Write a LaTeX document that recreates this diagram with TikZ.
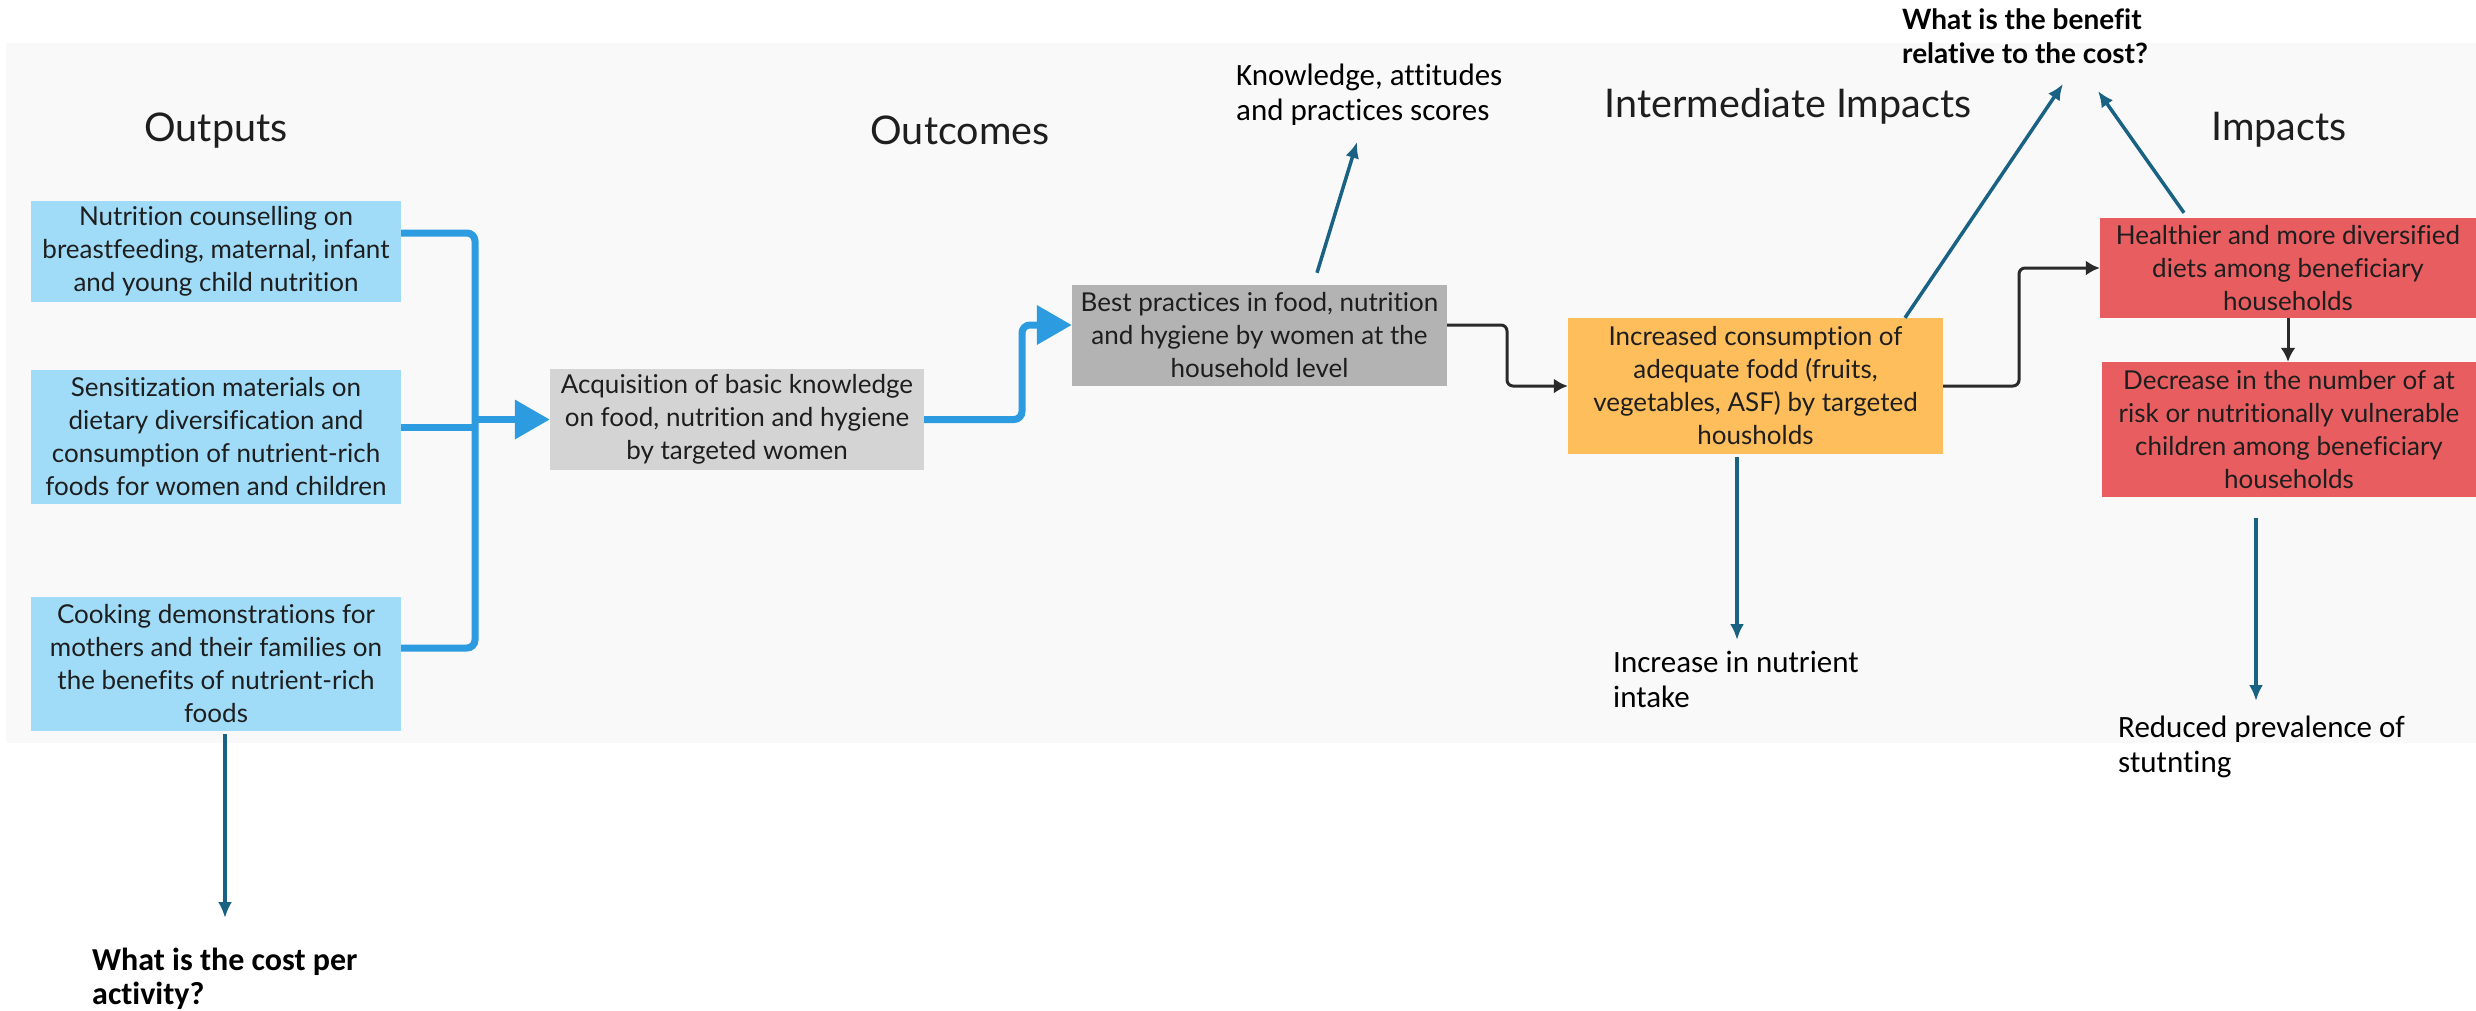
\documentclass[tikz,border=0pt]{standalone}
\usepackage{fontspec}
\setmainfont[Ligatures=NoCommon]{Lato}
\newfontfamily\labfont[Ligatures=NoCommon]{Carlito}
\usetikzlibrary{arrows.meta,calc}
\definecolor{panel}{HTML}{F9F9F9}
\definecolor{outblue}{HTML}{A0DCF8}
\definecolor{connblue}{HTML}{2D9BE0}
\definecolor{lgray}{HTML}{D4D4D4}
\definecolor{mgray}{HTML}{B3B3B3}
\definecolor{orangebox}{HTML}{FFBE5C}
\definecolor{redbox}{HTML}{E85D60}
\definecolor{tealarrow}{HTML}{1A6283}
\definecolor{darkline}{HTML}{2A2A2A}
\definecolor{txt}{HTML}{1E1E1E}
\begin{document}
\begin{tikzpicture}[x=1pt,y=-1pt,
  box/.style={inner sep=0pt, align=center, text=txt, font=\fontsize{26}{33}\selectfont},
  titlenode/.style={inner sep=0pt, text=txt, font=\fontsize{39.5}{42}\selectfont},
  labnode/.style={inner sep=0pt, align=left, anchor=north west, text=black, font=\labfont\fontsize{31}{35}\selectfont},
  boldlab/.style={inner sep=0pt, align=left, anchor=north west, text=black, font=\bfseries\fontsize{28}{34}\selectfont},
  blueconn/.style={draw=connblue, line width=7pt, rounded corners=8pt},
  bluearr/.style={blueconn, -{Triangle[length=35pt,width=38pt]}},
  blackarr/.style={draw=darkline, line width=3pt, rounded corners=6pt, -{Latex[length=14pt,width=15pt]}},
  tealarr/.style={draw=tealarrow, line width=3.5pt, -{Latex[length=16pt,width=14pt]}}
]
\useasboundingbox (0,0) rectangle (2476,1010);
\fill[white] (0,0) rectangle (2476,1010);
\fill[panel] (6,43) rectangle (2476,743);

% titles
\node[titlenode] (tOut) at (216,131) {Outputs};
\node[titlenode] (tOutc) at (960,130) {Outcomes};
\node[titlenode] (tInt) at (1788,106) {Intermediate Impacts};
\node[titlenode] (tImp) at (2279,130) {Impacts};

% outputs
\node[box, fill=outblue, minimum width=370pt, minimum height=101pt] (b1) at (216,251.5)
  {Nutrition counselling on\\breastfeeding, maternal, infant\\and young child nutrition};
\node[box, fill=outblue, minimum width=370pt, minimum height=134pt] (b2) at (216,437)
  {Sensitization materials on\\dietary diversification and\\consumption of nutrient-rich\\foods for women and children};
\node[box, fill=outblue, minimum width=370pt, minimum height=134pt] (b3) at (216,664)
  {Cooking demonstrations for\\mothers and their families on\\the benefits of nutrient-rich\\foods};

% outcomes
\node[box, fill=lgray, minimum width=374pt, minimum height=101pt] (g1) at (737,419.5)
  {Acquisition of basic knowledge\\on food, nutrition and hygiene\\by targeted women};
\node[box, fill=mgray, minimum width=375pt, minimum height=101pt] (g2) at (1259.5,335.5)
  {Best practices in food, nutrition\\and hygiene by women at the\\household level};

% intermediate impacts
\node[box, fill=orangebox, minimum width=375pt, minimum height=136pt] (o) at (1755.5,386)
  {Increased consumption of\\adequate fodd (fruits,\\vegetables, ASF) by targeted\\housholds};

% impacts
\node[box, fill=redbox, minimum width=376pt, minimum height=100pt] (r1) at (2288,268)
  {Healthier and more diversified\\diets among beneficiary\\households};
\node[box, fill=redbox, minimum width=374pt, minimum height=135pt] (r2) at (2289,429.5)
  {Decrease in the number of at\\risk or nutritionally vulnerable\\children among beneficiary\\households};

% labels
\node[labnode] (kap) at (1236,64) {Knowledge, attitudes\\and practices scores};
\node[boldlab] (benefit) at (1902,8) {What is the benefit\\relative to the cost?};
\node[labnode, font=\labfont\bfseries\fontsize{32}{34}\selectfont] (cost) at (92,948) {What is the cost per\\activity?};
\node[labnode] (nutr) at (1613,651) {Increase in nutrient\\intake};
\node[labnode] (stunt) at (2118,716) {Reduced prevalence of\\stutnting};

% free ends of the teal arrows
\coordinate (kapTip) at (1357,142);
\coordinate (benTipL) at (2063,84);
\coordinate (benTipR) at (2098,91);
\coordinate (costTip) at (225,918);
\coordinate (nutrTip) at (1737,640);
\coordinate (stuntTip) at (2256,701);

% blue connectors
\draw[blueconn] ($(b1.east)+(0,-18.5)$) -- (475,233) -- (475,648) -- ($(b3.east)+(0,-16)$);
\draw[blueconn, rounded corners=0pt] ($(b2.east)+(0,-10)$) -- (475,427);
\draw[bluearr, rounded corners=0pt] (472,419.5) -- (g1.west);
\draw[bluearr] (g1.east) -- (1022,419.5) -- (1022,325) -- ($(g2.west)+(0,-10.5)$);

% black connectors
\draw[blackarr] ($(g2.east)+(0,-10.5)$) -- (1507,325) -- (1507,386) -- (o.west);
\draw[blackarr] (o.east) -- (2019,386) -- (2019,268) -- (r1.west);
\draw[blackarr] (r1.south) -- (r1.south |- r2.north);

% teal arrows
\draw[tealarr] ($(b3.south)+(9,3)$) -- (costTip);
\draw[tealarr] ($(g2.north)+(57.5,-12)$) -- (kapTip);
\draw[tealarr] ($(o.north)+(149.5,0)$) -- (benTipL);
\draw[tealarr] ($(r1.north)+(-104,-5)$) -- (benTipR);
\draw[tealarr] ($(o.south)+(-18.5,3)$) -- (nutrTip);
\draw[tealarr] ($(r2.south)+(-33,21)$) -- (stuntTip);
\end{tikzpicture}
\end{document}
